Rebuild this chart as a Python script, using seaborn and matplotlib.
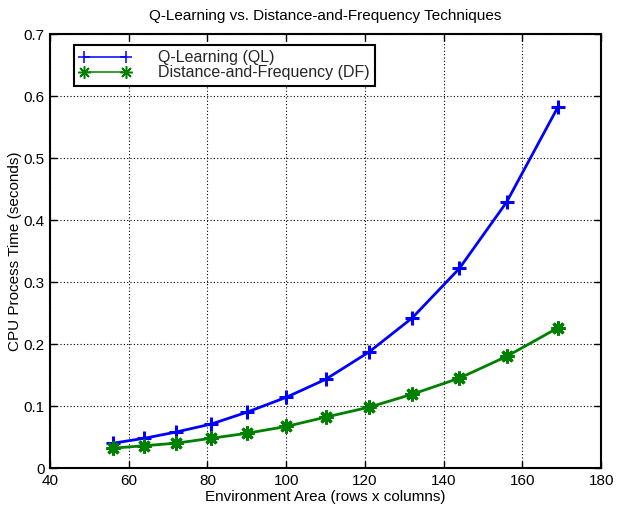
import matplotlib
matplotlib.use("Agg")
import matplotlib.pyplot as plt
import seaborn as sns
import pandas as pd

area = [56, 64, 72, 81, 90, 100, 110, 121, 132, 144, 156, 169]
ql = [0.040, 0.048, 0.058, 0.071, 0.090, 0.114, 0.143, 0.187, 0.242, 0.322, 0.429, 0.582]
df_vals = [0.032, 0.036, 0.040, 0.048, 0.056, 0.067, 0.082, 0.098, 0.119, 0.145, 0.180, 0.226]
series_names = ["Q-Learning (QL)", "Distance-and-Frequency (DF)"]
xticks = [40, 60, 80, 100, 120, 140, 160, 180]
yticks = [0, 0.1, 0.2, 0.3, 0.4, 0.5, 0.6, 0.7]
ytick_labels = ["0", "0.1", "0.2", "0.3", "0.4", "0.5", "0.6", "0.7"]

sns.set_theme(style="white")
plt.rcParams['font.family'] = ['Liberation Sans', 'DejaVu Sans']

fig = plt.figure(figsize=(6.21, 5.16), dpi=100)
ax = fig.add_axes([0.0805, 0.093, 0.8875, 0.841])

asterisk = (8, 2, 0)
for name, vals, col, mk in [(series_names[0], ql, "#0000ff", "+"),
                            (series_names[1], df_vals, "#008000", asterisk)]:
    sns.lineplot(x=area, y=vals, color=col, marker=mk, linewidth=2,
                 markersize=10, markeredgewidth=2.2, markeredgecolor=col, ax=ax)
    ax.plot([], [], color=col, marker=mk, lw=1.1, ms=9, mew=1.1, label=name)

ax.set_xlim(40, 180)
ax.set_ylim(0, 0.7)
ax.set_xticks(xticks)
ax.set_yticks(yticks)
ax.set_xticklabels([str(t) for t in xticks])
ax.set_yticklabels(ytick_labels)
ax.grid(True, linestyle=(0, (1, 2)), color="black", linewidth=0.8)
ax.tick_params(direction="in", length=5, width=1, colors="black", labelsize=11,
               top=True, right=True, bottom=True, left=True, pad=4)
for s in ax.spines.values():
    s.set_visible(True)
    s.set_color("black")
    s.set_linewidth(1.5)

ax.set_xlabel("Environment Area (rows x columns)", fontsize=11, color="black", labelpad=2)
ax.set_ylabel("CPU Process Time (seconds)", fontsize=11, color="black", labelpad=1)
ax.set_title("Q-Learning vs. Distance-and-Frequency Techniques", fontsize=11, color="black", pad=10)

leg = ax.legend(loc="upper left", bbox_to_anchor=(0.043, 0.975), fontsize=11.5,
                frameon=True, fancybox=False, edgecolor="black", framealpha=1,
                numpoints=2, handlelength=3.2, borderpad=0.35, labelspacing=0.0,
                handletextpad=1.7, borderaxespad=0)
leg.get_frame().set_linewidth(1.5)

fig.savefig("out.png", dpi=100, facecolor="white")
